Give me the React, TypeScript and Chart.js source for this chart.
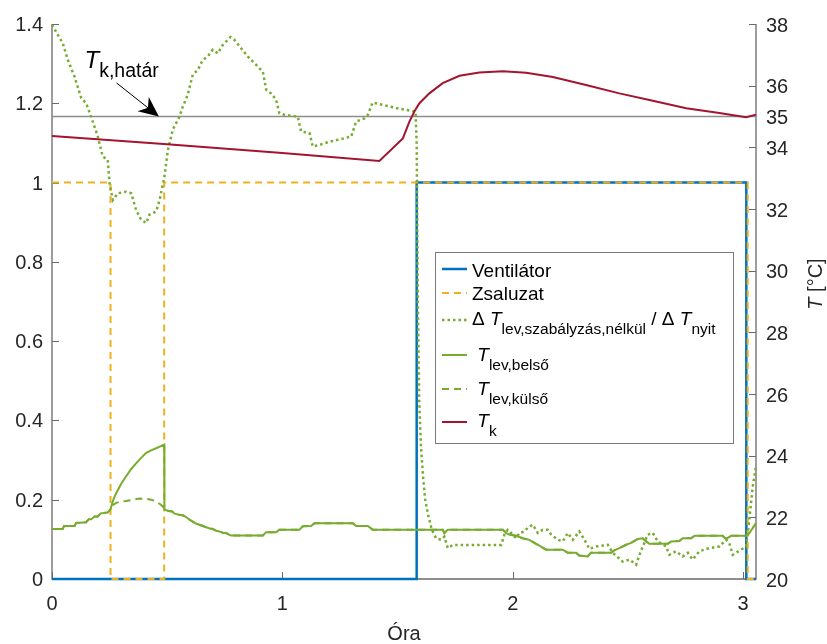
import React, { useEffect, useRef } from 'react';
import { Chart, registerables } from 'chart.js';

Chart.register(...registerables);

const FONT = '"Liberation Sans", Arial, Helvetica, sans-serif';
const TEXT = '#262626';
const AXIS = '#6a6a6a';
const BLUE = '#0072BD';
const ORANGE = '#EDB120';
const GREEN = '#77AC30';
const RED = '#A2142F';
const GREY = '#8c8c8c';

// ---- axes ----
const X_MIN = 0;
const X_MAX = 3.056;
const Y_LEFT_MIN = 0;
const Y_LEFT_MAX = 1.4;
const Y_RIGHT_MIN = 20;
const Y_RIGHT_MAX = 38;
const X_TICKS = [0, 1, 2, 3];
const Y_LEFT_TICKS = [0, 0.2, 0.4, 0.6, 0.8, 1, 1.2, 1.4];
const Y_RIGHT_TICKS = [20, 22, 24, 26, 28, 30, 32, 34, 35, 36, 38];
const X_TITLE = 'Óra';

// ---- Ventilátor (left axis, 0/1) ----
const VENT_T = [0, 1.583, 1.583, 3.014, 3.014, 3.056];
const VENT_V = [0, 0, 1, 1, 0, 0];

// ---- Zsaluzat (left axis, 0/1) ----
const ZS_T = [0, 0.254, 0.254, 0.487, 0.487, 3.02, 3.02, 3.056];
const ZS_V = [1, 1, 0, 0, 1, 1, 0, 0];

// ---- ΔT_lev,szabályzás,nélkül / ΔT_nyit (left axis) ----
const DT_T = [
  0, 0.047, 0.069, 0.098, 0.127, 0.148, 0.17, 0.199, 0.22, 0.242, 0.25, 0.264, 0.286, 0.322, 0.344,
  0.365, 0.387, 0.409, 0.423, 0.452, 0.467, 0.488, 0.503, 0.524, 0.553, 0.568, 0.589, 0.611, 0.633,
  0.654, 0.676, 0.698, 0.72, 0.741, 0.775, 0.792, 0.821, 0.85, 0.915, 0.93, 0.951, 0.973, 0.987,
  1.009, 1.067, 1.081, 1.118, 1.132, 1.161, 1.204, 1.248, 1.299, 1.32, 1.356, 1.371, 1.392, 1.436,
  1.494, 1.578, 1.583, 1.588, 1.594, 1.602, 1.612, 1.62, 1.634, 1.649, 1.667, 1.689, 1.703, 1.718,
  1.74, 1.95, 1.964, 1.978, 1.993, 2.015, 2.029, 2.051, 2.065, 2.087, 2.109, 2.13, 2.152, 2.167,
  2.196, 2.217, 2.239, 2.261, 2.289, 2.311, 2.333, 2.362, 2.413, 2.434, 2.477, 2.507, 2.536, 2.55,
  2.586, 2.608, 2.629, 2.666, 2.68, 2.709, 2.738, 2.76, 2.781, 2.81, 2.854, 2.897, 2.926, 2.94,
  2.955, 3.013, 3.027, 3.042, 3.056,
];
const DT_V = [
  1.398, 1.351, 1.309, 1.267, 1.213, 1.2, 1.166, 1.116, 1.066, 1.057, 0.998, 0.956, 0.973, 0.977, 0.973,
  0.931, 0.906, 0.898, 0.919, 0.927, 0.956, 1.015, 1.082, 1.133, 1.166, 1.192, 1.221, 1.272, 1.284,
  1.309, 1.318, 1.335, 1.326, 1.347, 1.367, 1.36, 1.339, 1.318, 1.28, 1.234, 1.225, 1.209, 1.175,
  1.171, 1.166, 1.129, 1.125, 1.091, 1.095, 1.103, 1.109, 1.116, 1.154, 1.162, 1.171, 1.202, 1.196,
  1.188, 1.179, 1.1, 0.7, 0.45, 0.33, 0.25, 0.2, 0.158, 0.124, 0.103, 0.099, 0.107, 0.078,
  0.086, 0.086, 0.112, 0.124, 0.116, 0.103, 0.116, 0.12, 0.129, 0.137, 0.116, 0.124, 0.124, 0.112,
  0.099, 0.095, 0.116, 0.099, 0.12, 0.099, 0.076, 0.082, 0.086, 0.066, 0.044, 0.049, 0.036, 0.061,
  0.112, 0.116, 0.095, 0.082, 0.061, 0.07, 0.057, 0.066, 0.049, 0.07, 0.078, 0.082, 0.099, 0.091,
  0.061, 0.082, 0.15, 0.234, 0.284,
];

// ---- T_lev,belső (right axis, °C) ----
const BELSO_T = [
  0, 0.047, 0.052, 0.098, 0.105, 0.148, 0.16, 0.17, 0.185, 0.199, 0.212, 0.242, 0.254, 0.265, 0.279,
  0.3, 0.322, 0.343, 0.365, 0.387, 0.409, 0.43, 0.452, 0.47, 0.487, 0.488, 0.51, 0.52, 0.532, 0.555,
  0.57, 0.582, 0.596, 0.611, 0.625, 0.64, 0.655, 0.669, 0.685, 0.698, 0.712, 0.727, 0.742, 0.756,
  0.77, 0.778, 0.915, 0.93, 0.973, 0.987, 1.074, 1.089, 1.125, 1.139, 1.306, 1.32, 1.371, 1.392,
  1.696, 1.703, 1.718, 1.957, 1.971, 1.986, 2.015, 2.043, 2.072, 2.094, 2.123, 2.145, 2.217, 2.239,
  2.275, 2.289, 2.325, 2.34, 2.427, 2.441, 2.463, 2.492, 2.514, 2.543, 2.564, 2.579, 2.593, 2.673,
  2.688, 2.723, 2.738, 2.774, 2.789, 2.911, 2.926, 2.948, 3.013, 3.027, 3.056,
];
const BELSO_V = [
  21.62, 21.62, 21.72, 21.72, 21.82, 21.84, 21.94, 21.94, 22.03, 22.03, 22.13, 22.16, 22.26, 22.55, 22.79,
  23.08, 23.33, 23.56, 23.75, 23.93, 24.09, 24.17, 24.24, 24.3, 24.36, 22.25, 22.2, 22.2, 22.12, 22.08,
  22.06, 22.01, 21.93, 21.86, 21.8, 21.76, 21.72, 21.68, 21.64, 21.62, 21.57, 21.54, 21.5, 21.49,
  21.43, 21.41, 21.41, 21.52, 21.52, 21.6, 21.6, 21.71, 21.72, 21.81, 21.81, 21.72, 21.72, 21.6,
  21.6, 21.49, 21.6, 21.6, 21.49, 21.44, 21.4, 21.32, 21.27, 21.17, 21.05, 20.95, 20.95, 20.85,
  20.85, 20.76, 20.73, 20.85, 20.85, 20.93, 21.0, 21.11, 21.17, 21.3, 21.32, 21.22, 21.14, 21.14,
  21.22, 21.23, 21.32, 21.32, 21.4, 21.4, 21.3, 21.4, 21.4, 21.49, 21.81,
];

// ---- T_lev,külső (right axis, °C): differs from belső only while the shutter is closed ----
const KULSO_WIN_T = [0.254, 0.265, 0.279, 0.3, 0.322, 0.35, 0.38, 0.409, 0.43, 0.452, 0.474, 0.487];
const KULSO_WIN_V = [22.26, 22.4, 22.47, 22.52, 22.53, 22.57, 22.61, 22.6, 22.57, 22.52, 22.4, 22.3];

// ---- T_k (right axis, °C) ----
const TK_T = [
  0, 0.5, 1.0, 1.421, 1.523, 1.552, 1.573, 1.595, 1.638, 1.696, 1.769, 1.855, 1.957, 2.058, 2.174,
  2.318, 2.463, 2.608, 2.753, 2.897, 3.013, 3.056,
];
const TK_V = [
  34.37, 34.1, 33.82, 33.56, 34.29, 34.84, 35.16, 35.43, 35.75, 36.08, 36.32, 36.43, 36.47, 36.42, 36.28,
  36.02, 35.75, 35.51, 35.27, 35.11, 34.98, 35.06,
];

// ---- T_k,határ threshold (right axis, °C) ----
const TK_HATAR = 35;

// annotation anchors in data coordinates (hour, °C)
const ANNOT_TEXT = { x: 0.141, y: 36.57 };
const ANNOT_TAIL = { x: 0.28, y: 36.09 };
const ANNOT_TIP = { x: 0.464, y: TK_HATAR };

type Seg = { t: string; it?: boolean; sub?: boolean };

const LEGEND_ROWS: { segs: Seg[]; color: string; dash: number[]; width: number; base: number; sample: number }[] = [
  { segs: [{ t: 'Ventilátor' }], color: BLUE, dash: [], width: 2.5, base: 277, sample: 269 },
  { segs: [{ t: 'Zsaluzat' }], color: ORANGE, dash: [7, 5], width: 2, base: 300, sample: 293 },
  {
    segs: [
      { t: 'Δ ' }, { t: 'T', it: true }, { t: 'lev,szabályzás,nélkül', sub: true },
      { t: ' / Δ ' }, { t: 'T', it: true }, { t: 'nyit', sub: true },
    ],
    color: GREEN, dash: [2.5, 3], width: 2.5, base: 325, sample: 320,
  },
  { segs: [{ t: ' ' }, { t: 'T', it: true }, { t: 'lev,belső', sub: true }], color: GREEN, dash: [], width: 2, base: 361, sample: 355 },
  { segs: [{ t: ' ' }, { t: 'T', it: true }, { t: 'lev,külső', sub: true }], color: GREEN, dash: [7, 5], width: 2, base: 395, sample: 389 },
  { segs: [{ t: ' ' }, { t: 'T', it: true }, { t: 'k', sub: true }], color: RED, dash: [], width: 2, base: 427, sample: 422 },
];

function pts(ts: number[], vs: number[]) {
  return ts.map((t, i) => ({ x: t, y: vs[i] }));
}

function drawRich(ctx: CanvasRenderingContext2D, x: number, y: number, segs: Seg[], size: number, subSize: number, subOff: number) {
  let cx = x;
  for (const s of segs) {
    const sz = s.sub ? subSize : size;
    ctx.font = `${s.it ? 'italic ' : ''}${sz}px ${FONT}`;
    ctx.fillText(s.t, cx, s.sub ? y + subOff : y);
    cx += ctx.measureText(s.t).width;
  }
}

const decor = {
  id: 'decor',
  beforeDatasetsDraw(chart: any) {
    const { ctx, chartArea: a, scales } = chart;
    ctx.save();
    ctx.strokeStyle = AXIS;
    ctx.lineWidth = 1.3;
    ctx.beginPath();
    ctx.moveTo(a.left, a.top);
    ctx.lineTo(a.left, a.bottom);
    ctx.lineTo(a.right, a.bottom);
    ctx.lineTo(a.right, a.top);
    ctx.stroke();
    ctx.lineWidth = 1;
    ctx.beginPath();
    for (const v of Y_LEFT_TICKS) {
      const y = Math.round(scales.y.getPixelForValue(v)) + 0.5;
      ctx.moveTo(a.left, y);
      ctx.lineTo(a.left + 7, y);
    }
    for (const v of Y_RIGHT_TICKS) {
      const y = Math.round(scales.y2.getPixelForValue(v)) + 0.5;
      ctx.moveTo(a.right - 7, y);
      ctx.lineTo(a.right, y);
    }
    for (const v of X_TICKS) {
      const x = Math.round(scales.x.getPixelForValue(v)) + 0.5;
      ctx.moveTo(x, a.bottom);
      ctx.lineTo(x, a.bottom - 7);
    }
    ctx.stroke();
    ctx.restore();
  },
  afterDatasetsDraw(chart: any) {
    const { ctx, chartArea: a, scales } = chart;
    ctx.save();
    ctx.fillStyle = TEXT;
    ctx.font = `20px ${FONT}`;
    ctx.textBaseline = 'alphabetic';
    // left tick labels
    ctx.textAlign = 'right';
    for (const v of Y_LEFT_TICKS) {
      ctx.fillText(String(v), a.left - 9, scales.y.getPixelForValue(v) + 7);
    }
    // right tick labels
    ctx.textAlign = 'left';
    for (const v of Y_RIGHT_TICKS) {
      ctx.fillText(String(v), a.right + 10, scales.y2.getPixelForValue(v) + 7.5);
    }
    // x tick labels
    ctx.textAlign = 'center';
    for (const v of X_TICKS) {
      ctx.fillText(String(v), scales.x.getPixelForValue(v), a.bottom + 31);
    }
    // x title
    ctx.fillText(X_TITLE, (a.left + a.right) / 2, a.bottom + 61);
    // right title "T [°C]"
    ctx.save();
    ctx.translate(a.right + 66, 284);
    ctx.rotate(-Math.PI / 2);
    ctx.textAlign = 'left';
    ctx.font = `italic 20px ${FONT}`;
    const w1 = ctx.measureText('T').width;
    ctx.font = `20px ${FONT}`;
    const w2 = ctx.measureText(' [°C]').width;
    const sx = -(w1 + w2) / 2;
    ctx.font = `italic 20px ${FONT}`;
    ctx.fillText('T', sx, 0);
    ctx.font = `20px ${FONT}`;
    ctx.fillText(' [°C]', sx + w1, 0);
    ctx.restore();

    // annotation T_k,határ with arrow
    const tx = scales.x.getPixelForValue(ANNOT_TEXT.x);
    const ty = scales.y2.getPixelForValue(ANNOT_TEXT.y);
    ctx.textAlign = 'left';
    ctx.fillStyle = '#000';
    drawRich(ctx, tx, ty, [{ t: 'T', it: true }, { t: 'k,határ', sub: true }], 24, 19.5, 9);
    const x0 = scales.x.getPixelForValue(ANNOT_TAIL.x);
    const y0 = scales.y2.getPixelForValue(ANNOT_TAIL.y);
    const x1 = scales.x.getPixelForValue(ANNOT_TIP.x);
    const y1 = scales.y2.getPixelForValue(ANNOT_TIP.y);
    const dx = x1 - x0, dy = y1 - y0;
    const L = Math.hypot(dx, dy);
    const ux = dx / L, uy = dy / L;
    const px = -uy, py = ux;
    ctx.strokeStyle = '#000';
    ctx.lineWidth = 1;
    ctx.beginPath();
    ctx.moveTo(x0, y0);
    ctx.lineTo(x1 - ux * 12, y1 - uy * 12);
    ctx.stroke();
    ctx.beginPath();
    ctx.moveTo(x1, y1);
    ctx.lineTo(x1 - ux * 20 + px * 9, y1 - uy * 20 + py * 9);
    ctx.lineTo(x1 - ux * 14, y1 - uy * 14);
    ctx.lineTo(x1 - ux * 20 - px * 9, y1 - uy * 20 - py * 9);
    ctx.closePath();
    ctx.fill();

    // legend
    const lx = 435, ly = 252, lw = 298, lh = 191;
    ctx.fillStyle = '#fff';
    ctx.fillRect(lx, ly, lw, lh);
    ctx.strokeStyle = '#7a7a7a';
    ctx.lineWidth = 1;
    ctx.strokeRect(lx + 0.5, ly + 0.5, lw, lh);
    for (const r of LEGEND_ROWS) {
      ctx.strokeStyle = r.color;
      ctx.lineWidth = r.width;
      ctx.setLineDash(r.dash);
      ctx.beginPath();
      ctx.moveTo(442, r.sample);
      ctx.lineTo(467, r.sample);
      ctx.stroke();
      ctx.setLineDash([]);
      ctx.fillStyle = '#000';
      drawRich(ctx, 472, r.base, r.segs, 19, 15.5, 8.5);
    }
    ctx.restore();
  },
};

export default function App() {
  const ref = useRef<HTMLCanvasElement | null>(null);
  useEffect(() => {
    if (!ref.current) return;
    const belso = pts(BELSO_T, BELSO_V);
    const kulso = [
      ...belso.filter((p) => p.x < KULSO_WIN_T[0]),
      ...pts(KULSO_WIN_T, KULSO_WIN_V),
      ...belso.filter((p) => p.x > KULSO_WIN_T[KULSO_WIN_T.length - 1]),
    ];
    const common = { pointRadius: 0, tension: 0, fill: false, clip: 4 };
    const chart = new Chart(ref.current, {
      type: 'line',
      data: {
        datasets: [
          { ...common, label: 'Ventilátor', data: pts(VENT_T, VENT_V), borderColor: BLUE, borderWidth: 2.5, yAxisID: 'y', order: 7 },
          { ...common, label: 'Zsaluzat', data: pts(ZS_T, ZS_V), borderColor: ORANGE, borderWidth: 2, borderDash: [7, 5], yAxisID: 'y', order: 6 },
          { ...common, label: 'dT', data: pts(DT_T, DT_V), borderColor: GREEN, borderWidth: 2.5, borderDash: [2.5, 3], yAxisID: 'y', order: 5 },
          { ...common, label: 'belso', data: belso, borderColor: GREEN, borderWidth: 2, yAxisID: 'y2', order: 4 },
          { ...common, label: 'kulso', data: kulso, borderColor: GREEN, borderWidth: 2, borderDash: [7, 5], yAxisID: 'y2', order: 3 },
          { ...common, label: 'Tk', data: pts(TK_T, TK_V), borderColor: RED, borderWidth: 2, yAxisID: 'y2', order: 1 },
          { ...common, label: 'hatar', data: pts([X_MIN, X_MAX], [TK_HATAR, TK_HATAR]), borderColor: GREY, borderWidth: 1.3, yAxisID: 'y2', order: 8 },
        ],
      },
      options: {
        responsive: false,
        animation: false,
        devicePixelRatio: 1,
        events: [],
        layout: { padding: { top: 24, left: 0, right: 0, bottom: 0 } },
        plugins: { legend: { display: false }, tooltip: { enabled: false } },
        scales: {
          x: {
            type: 'linear', min: X_MIN, max: X_MAX,
            grid: { display: false, drawTicks: false }, border: { display: false },
            ticks: { display: false },
            afterFit: (s: any) => { s.height = 65; },
          },
          y: {
            type: 'linear', position: 'left', min: Y_LEFT_MIN, max: Y_LEFT_MAX,
            grid: { display: false, drawTicks: false }, border: { display: false },
            ticks: { display: false },
            afterFit: (s: any) => { s.width = 52; },
          },
          y2: {
            type: 'linear', position: 'right', min: Y_RIGHT_MIN, max: Y_RIGHT_MAX,
            grid: { display: false, drawTicks: false }, border: { display: false },
            ticks: { display: false },
            afterFit: (s: any) => { s.width = 71; },
          },
        },
      } as any,
      plugins: [decor as any],
    });
    return () => chart.destroy();
  }, []);
  return (
    <div style={{ position: 'absolute', left: 0, top: 0, width: 827, height: 644, background: '#fff' }}>
      <canvas ref={ref} width={827} height={644} style={{ width: 827, height: 644, display: 'block' }} />
    </div>
  );
}
